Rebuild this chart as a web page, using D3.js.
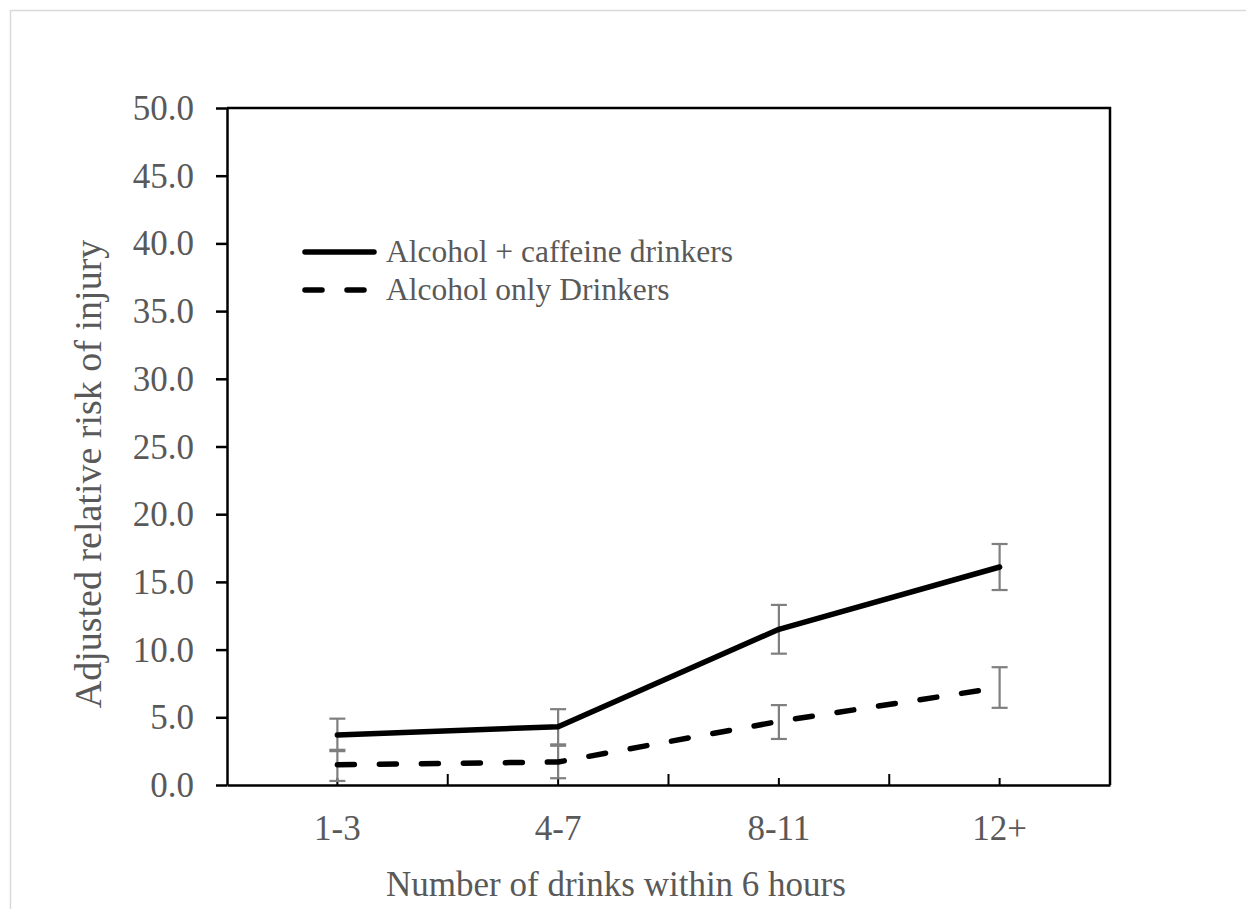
<!DOCTYPE html>
<html>
<head>
<meta charset="utf-8">
<script src="https://cdn.jsdelivr.net/npm/d3@7"></script>
<style>
  html, body { margin: 0; padding: 0; background: #fff; }
  svg { display: block; }
  text { font-family: "Liberation Serif", "Times New Roman", serif; fill: #595959; }
</style>
</head>
<body>
<svg id="chart" width="1246" height="909"></svg>
<script>
// Drink-count groups on the x axis
const categories = ["1-3", "4-7", "8-11", "12+"];

// Alcohol + caffeine drinkers: adjusted relative risk with CI bounds
const caffeineRisk = [3.7, 4.3, 11.5, 16.1];
const caffeineLow  = [2.5, 3.0, 9.7, 14.4];
const caffeineHigh = [4.9, 5.6, 13.3, 17.8];

// Alcohol only drinkers
const alcoholRisk = [1.5, 1.7, 4.7, 7.2];
const alcoholLow  = [0.3, 0.5, 3.4, 5.7];
const alcoholHigh = [2.6, 2.9, 5.9, 8.7];

// y axis ticks
const yTicks = [0, 5, 10, 15, 20, 25, 30, 35, 40, 45, 50];

const seriesNames = ["Alcohol + caffeine drinkers", "Alcohol only Drinkers"];

const svg = d3.select("#chart");
const W = 1246, H = 909;
const plot = { left: 227, right: 1110, top: 108, bottom: 785 };

// outer chart frame
svg.append("rect")
  .attr("x", 10.5).attr("y", 10.5)
  .attr("width", W + 20).attr("height", H + 20)
  .attr("fill", "#fff").attr("stroke", "#d9d9d9").attr("stroke-width", 1.5);

const x = d3.scaleBand().domain(categories).range([plot.left, plot.right]).padding(0);
const y = d3.scaleLinear().domain([0, 50]).range([plot.bottom, plot.top]);
const cx = d => x(d) + x.bandwidth() / 2;

const fontSize = 35;

// y axis
const yAxis = svg.append("g")
  .attr("transform", `translate(${plot.left},0)`)
  .call(d3.axisLeft(y).tickValues(yTicks).tickFormat(d3.format(".1f")).tickSizeInner(11).tickSizeOuter(0).tickPadding(22));
yAxis.select(".domain").attr("stroke", "#000").attr("stroke-width", 2.5);
yAxis.selectAll(".tick line").attr("stroke", "#000").attr("stroke-width", 2.5);
yAxis.selectAll(".tick text")
  .attr("font-size", fontSize)
  .attr("font-family", "Liberation Serif, Times New Roman, serif")
  .attr("fill", "#595959")
  .attr("dy", "0.33em");

// top and right border of the plot box
svg.append("path")
  .attr("d", `M${plot.left},${plot.top}H${plot.right}V${plot.bottom}`)
  .attr("fill", "none").attr("stroke", "#000").attr("stroke-width", 2.5);

// x axis: minor ticks at category centres, labels beneath
const xAxis = svg.append("g")
  .attr("transform", `translate(0,${plot.bottom})`)
  .call(d3.axisBottom(x).tickSizeInner(-7).tickSizeOuter(0).tickPadding(30));
xAxis.select(".domain").attr("stroke", "#000").attr("stroke-width", 2.5);
xAxis.selectAll(".tick line").attr("stroke", "#000").attr("stroke-width", 2);
xAxis.selectAll(".tick text")
  .attr("font-size", fontSize)
  .attr("font-family", "Liberation Serif, Times New Roman, serif")
  .attr("fill", "#595959")
  .attr("dy", "0.71em");

// major ticks at category boundaries
svg.append("g").selectAll("line")
  .data(categories.slice(1))
  .join("line")
  .attr("x1", d => x(d)).attr("x2", d => x(d))
  .attr("y1", plot.bottom).attr("y2", plot.bottom - 11)
  .attr("stroke", "#000").attr("stroke-width", 2);

// axis titles
svg.append("text")
  .attr("x", 616).attr("y", 896)
  .attr("text-anchor", "middle")
  .attr("font-size", fontSize)
  .text("Number of drinks within 6 hours");

svg.append("text")
  .attr("transform", "translate(101,474) rotate(-90)")
  .attr("text-anchor", "middle")
  .attr("font-size", 38)
  .text("Adjusted relative risk of injury");

// error bars
function errorBars(low, high) {
  const g = svg.append("g").attr("stroke", "#7f7f7f").attr("stroke-width", 2.2).attr("fill", "none");
  const cap = 8;
  categories.forEach((c, i) => {
    const px = cx(c);
    g.append("line").attr("x1", px).attr("x2", px).attr("y1", y(low[i])).attr("y2", y(high[i]));
    g.append("line").attr("x1", px - cap).attr("x2", px + cap).attr("y1", y(low[i])).attr("y2", y(low[i]));
    g.append("line").attr("x1", px - cap).attr("x2", px + cap).attr("y1", y(high[i])).attr("y2", y(high[i]));
  });
}
errorBars(caffeineLow, caffeineHigh);
errorBars(alcoholLow, alcoholHigh);

const line = d3.line().x((d, i) => cx(categories[i])).y(d => y(d));

svg.append("path")
  .datum(caffeineRisk)
  .attr("d", line)
  .attr("fill", "none").attr("stroke", "#000").attr("stroke-width", 5.5)
  .attr("stroke-linejoin", "round").attr("stroke-linecap", "round");

svg.append("path")
  .datum(alcoholRisk)
  .attr("d", line)
  .attr("fill", "none").attr("stroke", "#000").attr("stroke-width", 5.5)
  .attr("stroke-dasharray", "17,25")
  .attr("stroke-linejoin", "round").attr("stroke-linecap", "round");

// legend
const legend = svg.append("g");
const legendRows = [
  { name: seriesNames[0], y: 252, dash: null },
  { name: seriesNames[1], y: 290, dash: "17,25" }
];
legendRows.forEach(r => {
  legend.append("line")
    .attr("x1", 305).attr("x2", 374)
    .attr("y1", r.y).attr("y2", r.y)
    .attr("stroke", "#000").attr("stroke-width", 5.5)
    .attr("stroke-linecap", "round")
    .attr("stroke-dasharray", r.dash);
  legend.append("text")
    .attr("x", 386).attr("y", r.y)
    .attr("dy", "0.33em")
    .attr("font-size", 31.5)
    .text(r.name);
});
</script>
</body>
</html>
